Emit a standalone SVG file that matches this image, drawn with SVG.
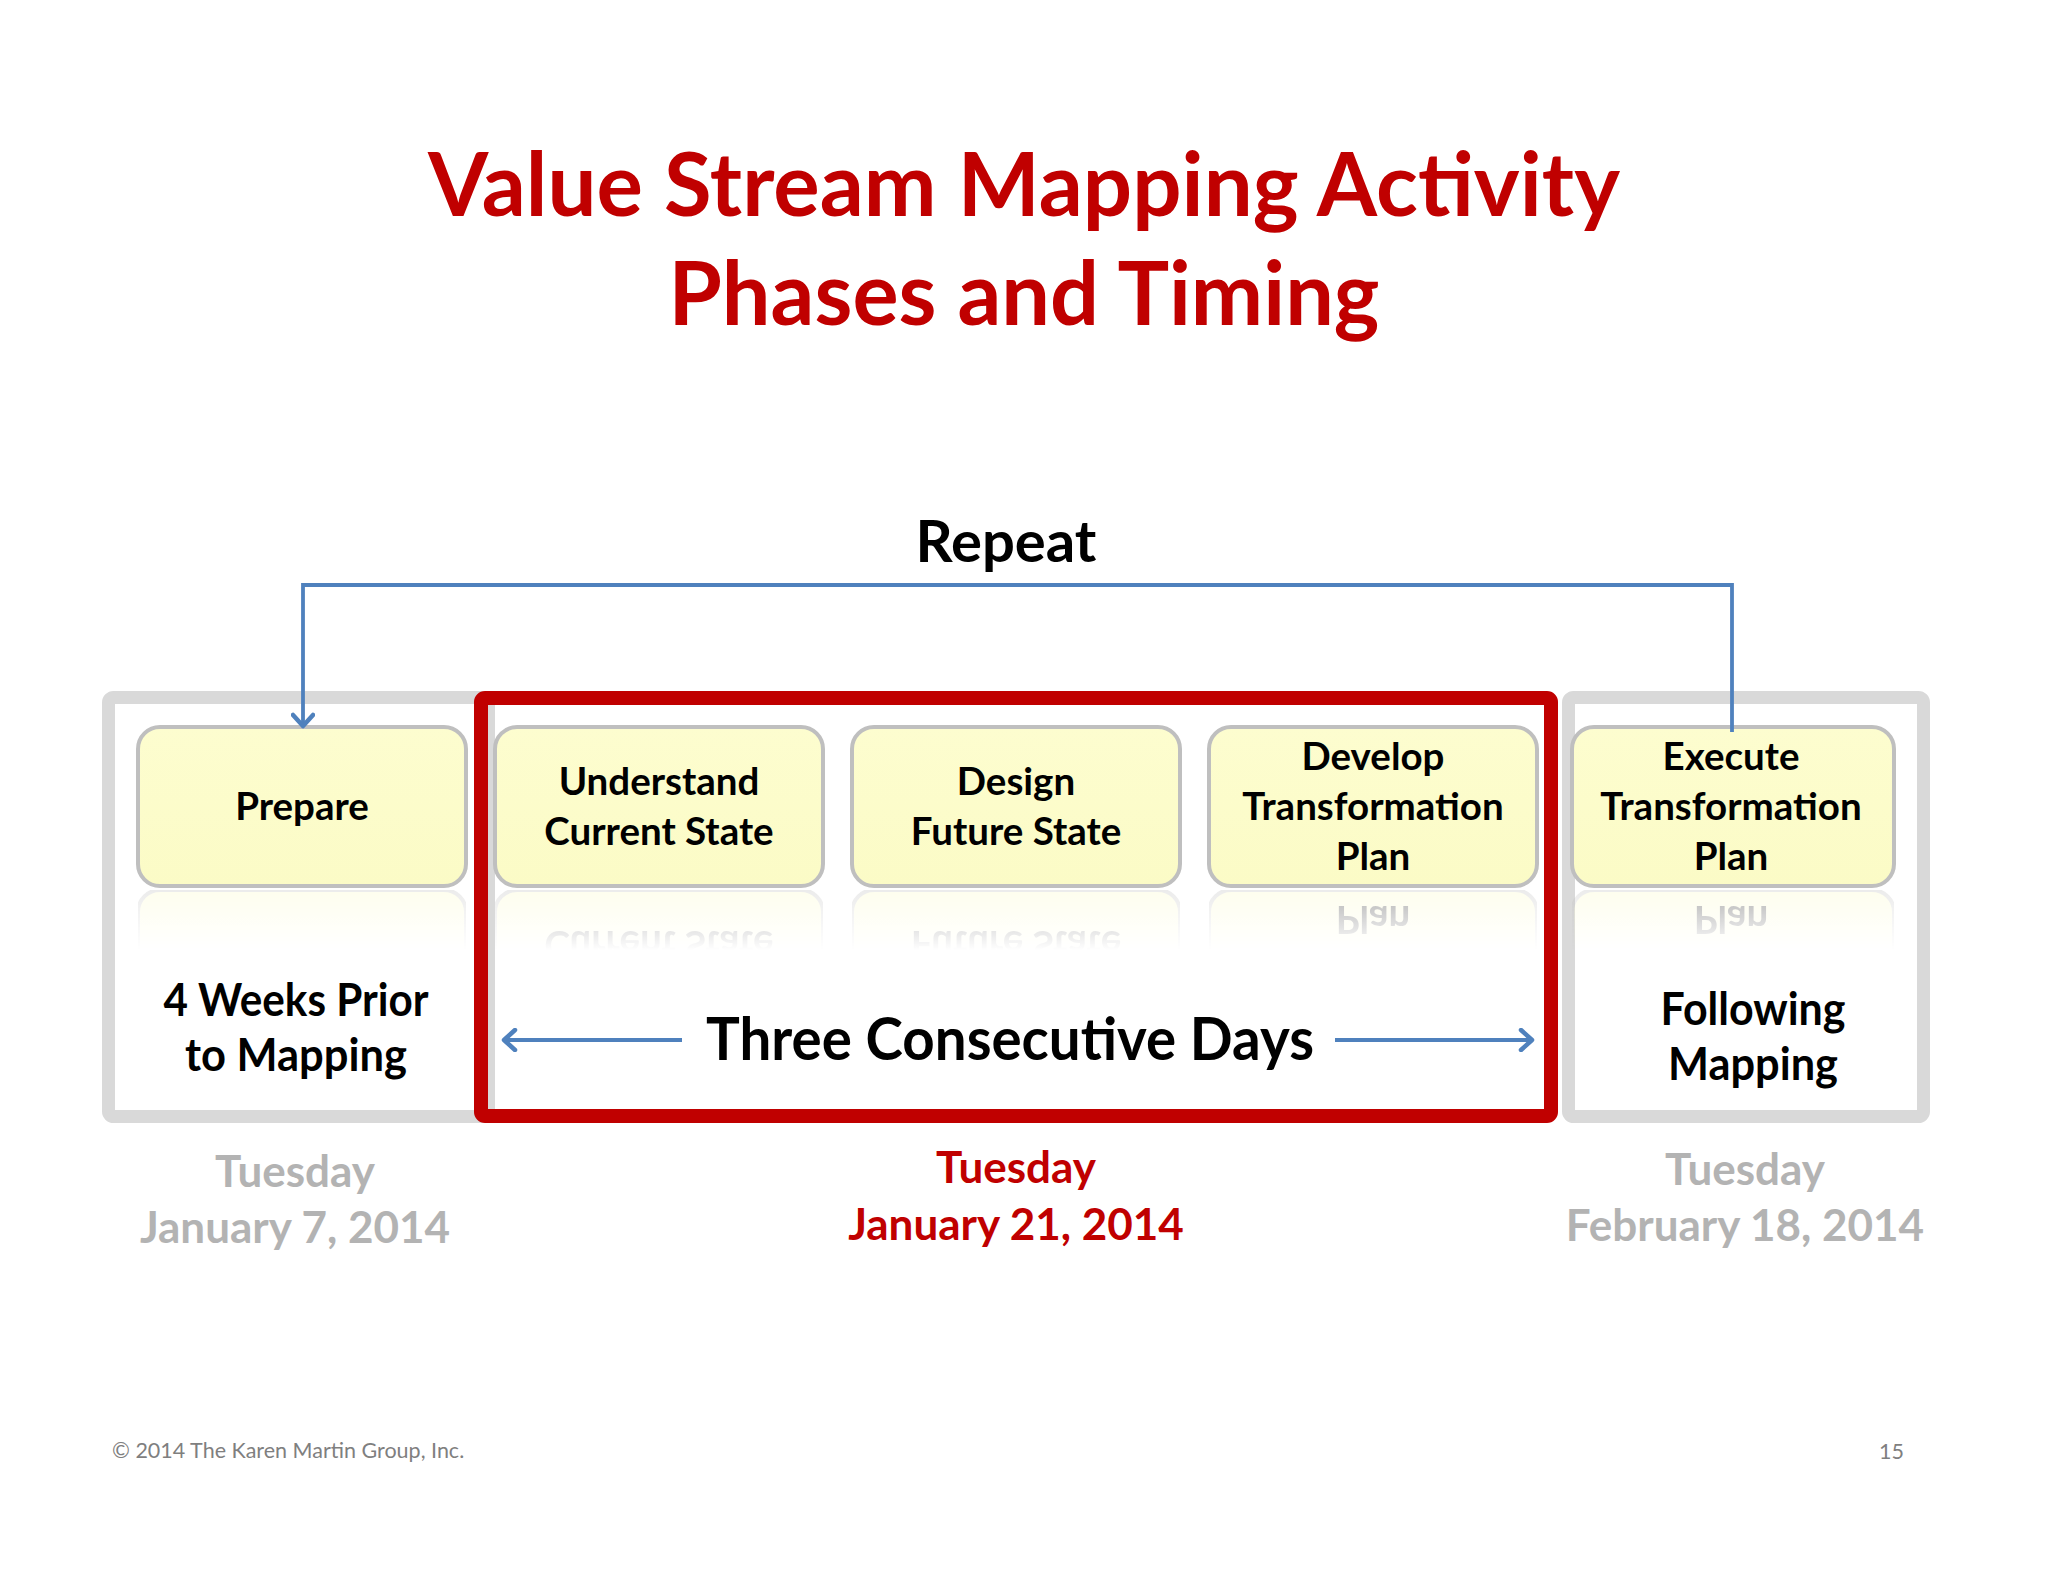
<svg xmlns="http://www.w3.org/2000/svg" xmlns:xlink="http://www.w3.org/1999/xlink" width="2048" height="1582" viewBox="0 0 2048 1582">
<defs>
<style>
.title{font-family:Lato,"Open Sans","Liberation Sans",sans-serif;font-weight:700;fill:#c00000;text-anchor:middle}
.lbl{font-family:Lato,"Open Sans","Liberation Sans",sans-serif;font-weight:700;fill:#000;text-anchor:middle}
.box{fill:url(#yel);stroke:#bfbfbf;stroke-width:4}
.grey{fill:none;stroke:#d9d9d9;stroke-width:13}
.date{font-family:Lato,"Open Sans","Liberation Sans",sans-serif;font-weight:700;text-anchor:middle;font-size:44px}
.foot{font-family:Lato,"Open Sans","Liberation Sans",sans-serif;font-weight:400;fill:#7f7f7f;font-size:21.5px}
.conn{fill:none;stroke:#4f81bd;stroke-width:3.8}
</style>
<linearGradient id="yel" x1="0" y1="0" x2="0" y2="1">
<stop offset="0" stop-color="#fdfdcf"/>
<stop offset="1" stop-color="#fbfbc6"/>
</linearGradient>
<linearGradient id="fadeg" x1="0" y1="0" x2="0" y2="1">
<stop offset="0" stop-color="#fff" stop-opacity="0"/>
<stop offset="0.62" stop-color="#fff" stop-opacity="0"/>
<stop offset="1" stop-color="#fff" stop-opacity="0.3"/>
</linearGradient>
<mask id="refl" maskContentUnits="objectBoundingBox">
<rect x="0" y="0" width="1" height="1" fill="url(#fadeg)"/>
</mask>
<marker id="chev" markerWidth="24" markerHeight="24" refX="15" refY="12" orient="auto" markerUnits="userSpaceOnUse">
<path d="M4,2 L15,12 L4,22" fill="none" stroke="#4f81bd" stroke-width="4.5" stroke-linecap="round" stroke-linejoin="round"/>
</marker>
</defs>
<rect width="2048" height="1582" fill="#fff"/>

<g id="title">
<text class="title" x="1024" y="216" font-size="88" textLength="1192" lengthAdjust="spacingAndGlyphs">Value Stream Mapping Activity</text>
<text class="title" x="1024" y="325" font-size="88" textLength="711" lengthAdjust="spacingAndGlyphs">Phases and Timing</text>
</g>

<g id="repeat-label">
<text class="lbl" x="1006" y="562" font-size="58">Repeat</text>
</g>

<g id="frames">
<rect id="frame-left" class="grey" x="108.5" y="697.5" width="380" height="419" rx="5"/>
<rect id="frame-right" class="grey" x="1568.5" y="697.5" width="355" height="419" rx="5"/>
<rect id="frame-red" x="481" y="698" width="1070" height="418" rx="4" fill="none" stroke="#c00000" stroke-width="14"/>
</g>

<g id="node-prepare">
<g id="prepare-shape">
<rect class="box" x="138" y="727" width="328" height="159" rx="22"/>
<text class="lbl" x="302" y="820" font-size="38.5">Prepare</text>
</g>
<use xlink:href="#prepare-shape" transform="translate(0,1776) scale(1,-1)" mask="url(#refl)"/>
</g>

<g id="node-understand">
<g id="understand-shape">
<rect class="box" x="495" y="727" width="328" height="159" rx="22"/>
<text class="lbl" x="659" y="795" font-size="38.5">Understand</text>
<text class="lbl" x="659" y="845" font-size="38.5">Current State</text>
</g>
<use xlink:href="#understand-shape" transform="translate(0,1776) scale(1,-1)" mask="url(#refl)"/>
</g>

<g id="node-design">
<g id="design-shape">
<rect class="box" x="852" y="727" width="328" height="159" rx="22"/>
<text class="lbl" x="1016" y="795" font-size="38.5">Design</text>
<text class="lbl" x="1016" y="845" font-size="38.5">Future State</text>
</g>
<use xlink:href="#design-shape" transform="translate(0,1776) scale(1,-1)" mask="url(#refl)"/>
</g>

<g id="node-develop">
<g id="develop-shape">
<rect class="box" x="1209" y="727" width="328" height="159" rx="22"/>
<text class="lbl" x="1373" y="770" font-size="38.5">Develop</text>
<text class="lbl" x="1373" y="820" font-size="38.5">Transformation</text>
<text class="lbl" x="1373" y="870" font-size="38.5">Plan</text>
</g>
<use xlink:href="#develop-shape" transform="translate(0,1776) scale(1,-1)" mask="url(#refl)"/>
</g>

<g id="node-execute">
<g id="execute-shape">
<rect class="box" x="1572" y="727" width="322" height="159" rx="22"/>
<text class="lbl" x="1731" y="770" font-size="38.5">Execute</text>
<text class="lbl" x="1731" y="820" font-size="38.5">Transformation</text>
<text class="lbl" x="1731" y="870" font-size="38.5">Plan</text>
</g>
<use xlink:href="#execute-shape" transform="translate(0,1776) scale(1,-1)" mask="url(#refl)"/>
</g>

<g id="phase-labels">
<text class="lbl" x="296" y="1016" font-size="46" textLength="265" lengthAdjust="spacingAndGlyphs">4 Weeks Prior</text>
<text class="lbl" x="296" y="1071" font-size="46" textLength="222" lengthAdjust="spacingAndGlyphs">to Mapping</text>
<text class="lbl" x="1010" y="1060" font-size="60" textLength="608" lengthAdjust="spacingAndGlyphs">Three Consecutive Days</text>
<text class="lbl" x="1753" y="1025" font-size="46" textLength="185" lengthAdjust="spacingAndGlyphs">Following</text>
<text class="lbl" x="1753" y="1080" font-size="46" textLength="170" lengthAdjust="spacingAndGlyphs">Mapping</text>
</g>

<g id="dates">
<text class="date" x="295" y="1187" fill="#b3b3b3">Tuesday</text>
<text class="date" x="295" y="1243" fill="#b3b3b3">January 7, 2014</text>
<text class="date" x="1016" y="1183" fill="#c00000">Tuesday</text>
<text class="date" x="1016" y="1240" fill="#c00000">January 21, 2014</text>
<text class="date" x="1745" y="1185" fill="#b3b3b3">Tuesday</text>
<text class="date" x="1745" y="1241" fill="#b3b3b3">February 18, 2014</text>
</g>

<g id="connectors">
<path id="repeat-loop" class="conn" d="M1732,732 V585 H303 V726" marker-end="url(#chev)"/>
<path id="days-left" class="conn" d="M682,1040 H504" marker-end="url(#chev)"/>
<path id="days-right" class="conn" d="M1335,1040 H1532" marker-end="url(#chev)"/>
</g>

<g id="footer">
<text class="foot" x="112" y="1458">© 2014 The Karen Martin Group, Inc.</text>
<text class="foot" x="1879" y="1459">15</text>
</g>
</svg>
